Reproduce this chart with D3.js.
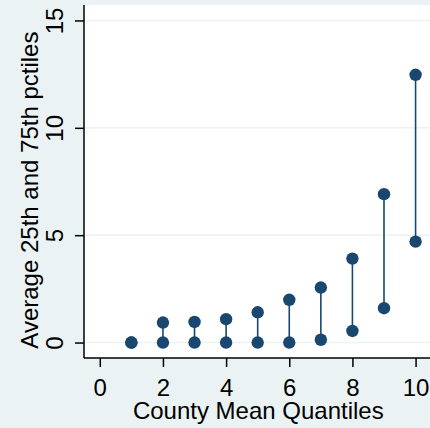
<!DOCTYPE html>
<html lang="en">
  <head>
    <meta charset="utf-8">
    <title>County Mean Quantiles</title>
    <script src="https://d3js.org/d3.v7.js"></script>
    <style>
      body { margin: 0; background: #eaf2f3; }
      text { font-family: "Liberation Sans", Arial, sans-serif; }
    </style>
  </head>
  <body>
    <script>

  // data
  var quantiles = [1, 2, 3, 4, 5, 6, 7, 8, 9, 10];
  var p25 = [0, 0, 0, 0, 0, 0, 0.13, 0.54, 1.60, 4.70];
  var p75 = [0, 0.93, 0.96, 1.09, 1.41, 1.99, 2.56, 3.91, 6.91, 12.47];
  var xTicks = [0, 2, 4, 6, 8, 10];
  var yTicks = [0, 5, 10, 15];

  var w = 430;
  var h = 428;
  var margin = {top: 5, right: -14, bottom: 70, left: 84};
  var innerWidth = w - margin.left - margin.right;
  var innerHeight = h - margin.top - margin.bottom;
  var fs = 24;

  var navy = "#1a476f";
  var bg = "#eaf2f3";

  var svg = d3.select("body")
    .append("svg")
    .attr("width", w)
    .attr("height", h)
    .style("display", "block")
    .style("background", bg);

  var xScale = d3.scaleLinear()
    .domain([-0.5, 10.9])
    .range([0, innerWidth]);

  var yScale = d3.scaleLinear()
    .domain([-0.72, 15.72])
    .range([innerHeight, 0]);

  var g = svg.append("g")
    .attr("transform", `translate(${margin.left}, ${margin.top})`);

  // plot region
  g.append("rect")
    .attr("width", innerWidth)
    .attr("height", innerHeight)
    .attr("fill", "white");

  // gridlines
  g.selectAll(".grid")
    .data(yTicks)
    .enter()
    .append("line")
    .attr("x1", 0)
    .attr("x2", innerWidth)
    .attr("y1", d => yScale(d))
    .attr("y2", d => yScale(d))
    .attr("stroke", bg)
    .attr("stroke-width", 1.5);

  // spikes
  g.selectAll(".spike")
    .data(quantiles)
    .enter()
    .append("line")
    .attr("x1", d => xScale(d))
    .attr("x2", d => xScale(d))
    .attr("y1", (d, i) => yScale(p25[i]))
    .attr("y2", (d, i) => yScale(p75[i]))
    .attr("stroke", navy)
    .attr("stroke-width", 1.6);

  // markers
  var pts = [];
  quantiles.forEach((q, i) => {
    pts.push([q, p25[i]]);
    pts.push([q, p75[i]]);
  });
  g.selectAll(".pt")
    .data(pts)
    .enter()
    .append("circle")
    .attr("cx", d => xScale(d[0]))
    .attr("cy", d => yScale(d[1]))
    .attr("r", 6.2)
    .attr("fill", navy);

  // axes
  var xAxis = d3.axisBottom(xScale)
    .tickValues(xTicks)
    .tickSize(9)
    .tickFormat(d3.format("d"));

  var yAxis = d3.axisLeft(yScale)
    .tickValues(yTicks)
    .tickSize(9)
    .tickFormat(d3.format("d"));

  var xg = g.append("g")
    .attr("transform", `translate(0, ${innerHeight})`)
    .call(xAxis);
  xg.select(".domain").remove();
  xg.append("line")
    .attr("x1", 0).attr("x2", innerWidth)
    .attr("stroke", "black").attr("stroke-width", 1.5);
  xg.selectAll(".tick line").attr("stroke-width", 1.5);
  xg.selectAll(".tick text")
    .attr("font-size", fs)
    .attr("fill", "black")
    .attr("y", 30)
    .attr("dy", "0.35em");

  var yg = g.append("g").call(yAxis);
  yg.select(".domain").remove();
  yg.append("line")
    .attr("y1", 0).attr("y2", innerHeight)
    .attr("stroke", "black").attr("stroke-width", 1.5);
  yg.selectAll(".tick line").attr("stroke-width", 1.5);

  // y tick labels rotated around their own position
  yg.selectAll(".tick text")
    .attr("font-size", fs)
    .attr("fill", "black")
    .attr("text-anchor", "middle")
    .attr("transform", "translate(-29, 0) rotate(-90)")
    .attr("x", 0)
    .attr("y", 0)
    .attr("dy", "0.35em");

  // titles
  svg.append("text")
    .attr("x", margin.left + xScale(5.02))
    .attr("y", 419)
    .attr("text-anchor", "middle")
    .attr("font-size", fs)
    .text("County Mean Quantiles");

  svg.append("text")
    .attr("transform", `translate(30, ${margin.top + yScale(7.1)}) rotate(-90)`)
    .attr("text-anchor", "middle")
    .attr("dy", "0.35em")
    .attr("font-size", fs)
    .text("Average 25th and 75th pctiles");

    </script>
  </body>
</html>
